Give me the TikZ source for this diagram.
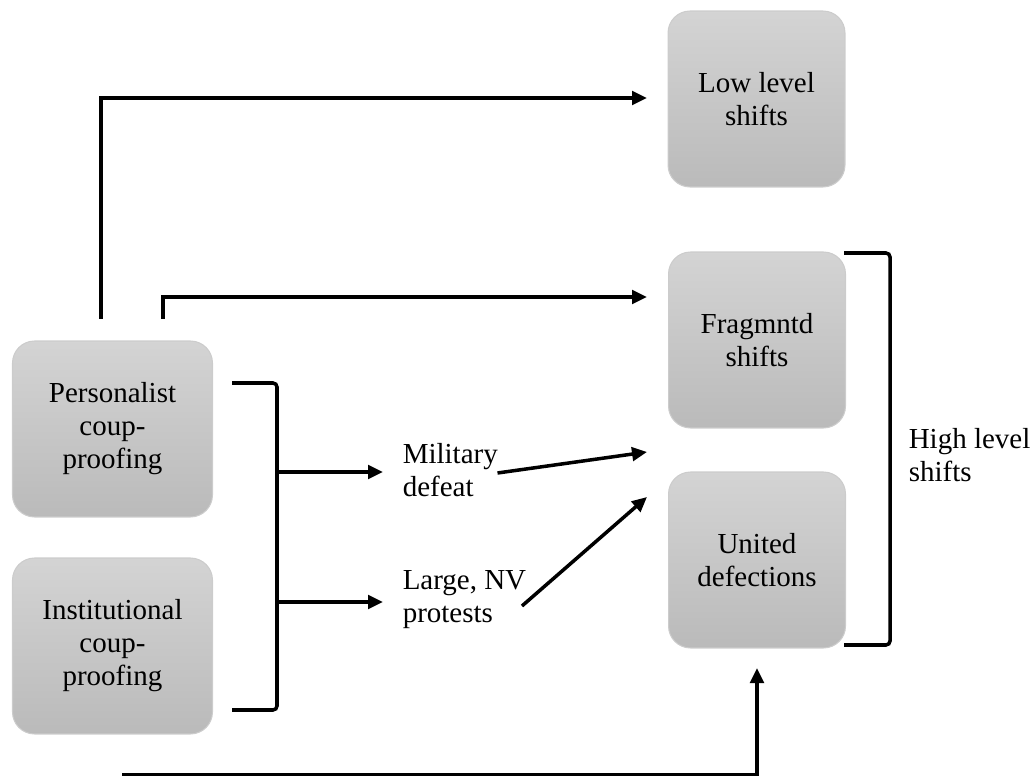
\documentclass[tikz,border=0pt]{standalone}
\usepackage{fontspec}
\setmainfont{Liberation Serif}
\usetikzlibrary{arrows.meta}
\begin{document}
\begin{tikzpicture}[x=0.02cm,y=-0.02cm,line width=2pt,
    font=\fontsize{16.5}{18.8}\selectfont,
    shiftbox/.style={rectangle,rounded corners=0.44cm,minimum height=3.52cm,
        top color=black!17,bottom color=black!27,draw=black!20,line width=0.6pt,
        align=center,inner sep=0pt},
    cause/.style={align=left,anchor=west,inner sep=0pt},
    arr/.style={-{Triangle[length=0.3cm,width=0.27cm]}}]
    \useasboundingbox (0,0) rectangle (1030,776);
    % boxes
    \node[shiftbox,minimum width=3.54cm] (low) at (756.5,99) {Low level\\shifts};
    \node[shiftbox,minimum width=3.54cm] (frag) at (757,340) {Fragmntd\\shifts};
    \node[shiftbox,minimum width=3.54cm] (unit) at (757,560) {United\\defections};
    \node[shiftbox,minimum width=4cm] (pers) at (112.5,429) {Personalist\\coup-\\proofing};
    \node[shiftbox,minimum width=4cm] (inst) at (112.5,646) {Institutional\\coup-\\proofing};
    \node[cause] (mil) at (401,470) {Military\\defeat};
    \node[cause] (prot) at (401,600) {Large, NV\\protests};
    \node[cause] (high) at (907,455) {High level\\shifts};
    % free ends
    \coordinate (pa) at (101,319);
    \coordinate (pb) at (163,319);
    \coordinate (lowin) at (647,98);
    \coordinate (fragin) at (647,297);
    \coordinate (milin) at (647,452);
    \coordinate (protin) at (647,497);
    \coordinate (bot) at (122,775);
    \coordinate (unitin) at (757,668);
    % left bracket
    \draw[rounded corners=0.08cm] (232,383) -- (277,383) -- (277,710) -- (232,710);
    \draw[arr] (277,472) -- ([xshift=-0.36cm]mil.west |- 277,472);
    \draw[arr] (277,602) -- ([xshift=-0.36cm]prot.west |- 277,602);
    % right bracket
    \draw[rounded corners=0.08cm] (844,253) -- (890,253) -- (890,645) -- (844,645);
    % connectors
    \draw[arr] (pa) |- (lowin);
    \draw[arr] (pb) |- (fragin);
    \draw[arr] ([xshift=-0.04cm,yshift=-0.06cm]mil.east) -- (milin);
    \draw[arr] ([xshift=-0.12cm,yshift=-0.12cm]prot.east) -- (protin);
    \draw[arr] (bot) -| (unitin);
\end{tikzpicture}
\end{document}
